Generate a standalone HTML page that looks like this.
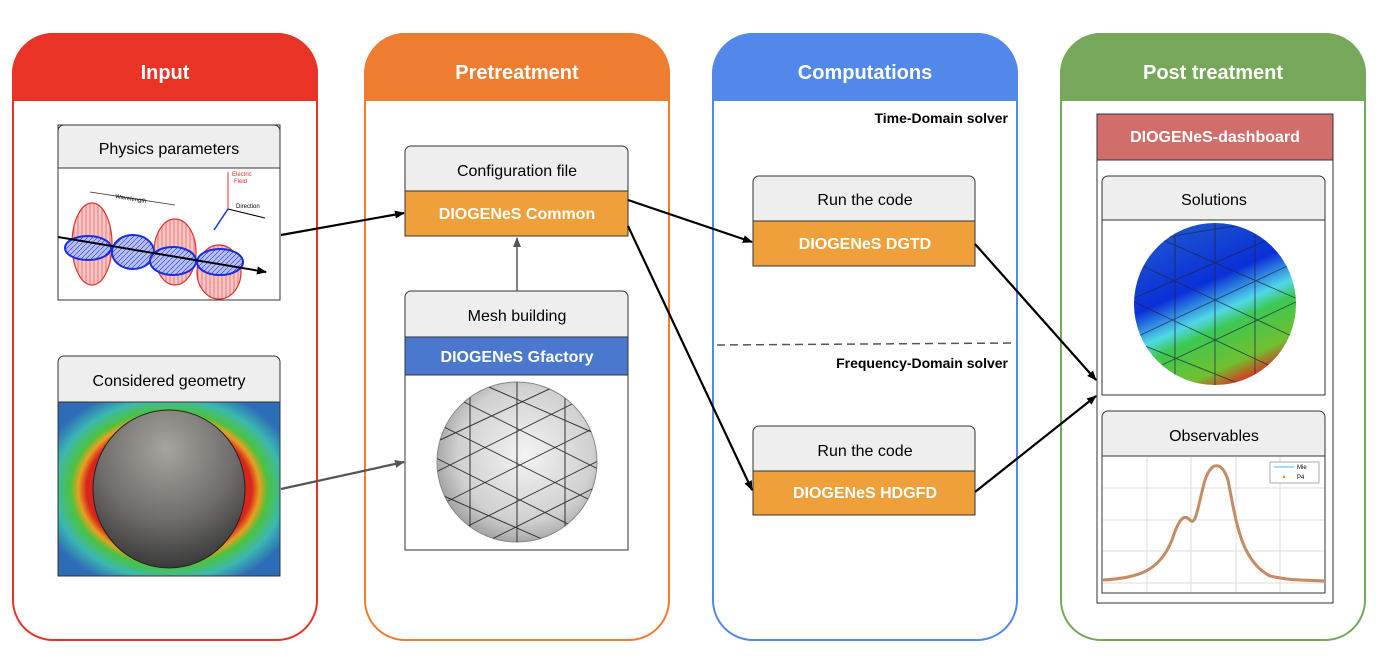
<!DOCTYPE html>
<html><head><meta charset="utf-8"><style>html,body{margin:0;padding:0;background:#fff}svg{display:block}text{font-family:"Liberation Sans",Arial,sans-serif}</style></head>
<body>
<svg width="1380" height="668" viewBox="0 0 1380 668" xmlns="http://www.w3.org/2000/svg">
<defs>
<marker id="ab" markerWidth="10" markerHeight="8" refX="9" refY="4" orient="auto" markerUnits="userSpaceOnUse"><path d="M0,0 L10,4 L0,8 Z" fill="#000"/></marker>
<marker id="ag" markerWidth="10" markerHeight="8" refX="9" refY="4" orient="auto" markerUnits="userSpaceOnUse"><path d="M0,0 L10,4 L0,8 Z" fill="#555"/></marker>
<radialGradient id="field" cx="50%" cy="50%" r="60%"><stop offset="0.62" stop-color="#d8261c"/><stop offset="0.68" stop-color="#e8a020"/><stop offset="0.74" stop-color="#4cc23e"/><stop offset="0.86" stop-color="#3bb8b0"/><stop offset="1" stop-color="#2d6db8"/></radialGradient>
<radialGradient id="grey" cx="48%" cy="25%" r="75%"><stop offset="0" stop-color="#a8a49e"/><stop offset="0.6" stop-color="#6e6d6b"/><stop offset="1" stop-color="#3a3a3a"/></radialGradient>
<radialGradient id="mesh" cx="55%" cy="45%" r="60%"><stop offset="0" stop-color="#f4f4f4"/><stop offset="0.7" stop-color="#d0d0d0"/><stop offset="1" stop-color="#9a9a9a"/></radialGradient>
<linearGradient id="sol" x1="0.2" y1="0.1" x2="0.6" y2="1"><stop offset="0" stop-color="#1a50d0"/><stop offset="0.35" stop-color="#0a2fd8"/><stop offset="0.55" stop-color="#50d8e8"/><stop offset="0.65" stop-color="#3cc850"/><stop offset="0.88" stop-color="#70c030"/><stop offset="1" stop-color="#d04020"/></linearGradient>
<pattern id="vh" width="4" height="4" patternUnits="userSpaceOnUse"><rect width="4" height="4" fill="#f6c6c6"/><line x1="2" y1="0" x2="2" y2="4" stroke="#e0302a" stroke-width="0.5"/></pattern>
<pattern id="dh" width="5" height="5" patternUnits="userSpaceOnUse"><rect width="5" height="5" fill="#b8c0f0"/><line x1="0" y1="5" x2="5" y2="0" stroke="#1a2ee0" stroke-width="0.6"/></pattern>
<clipPath id="c1"><ellipse cx="517" cy="462" rx="80" ry="80"/></clipPath>
<clipPath id="c2"><circle cx="1215" cy="304" r="81"/></clipPath>
</defs>

<g stroke-width="2">
<rect x="13" y="34" width="304" height="606" rx="40" fill="#fff" stroke="#E93326"/>
<path d="M13,100 V74 A40,40 0 0 1 53,34 H277 A40,40 0 0 1 317,74 V100 Z" fill="#E93326" stroke="#E93326"/>
<rect x="365" y="34" width="304" height="606" rx="40" fill="#fff" stroke="#EE7D31"/>
<path d="M365,100 V74 A40,40 0 0 1 405,34 H629 A40,40 0 0 1 669,74 V100 Z" fill="#EE7D31" stroke="#EE7D31"/>
<rect x="713" y="34" width="304" height="606" rx="40" fill="#fff" stroke="#5288EA"/>
<path d="M713,100 V74 A40,40 0 0 1 753,34 H977 A40,40 0 0 1 1017,74 V100 Z" fill="#5288EA" stroke="#5288EA"/>
<rect x="1061" y="34" width="304" height="606" rx="40" fill="#fff" stroke="#76A75A"/>
<path d="M1061,100 V74 A40,40 0 0 1 1101,34 H1325 A40,40 0 0 1 1365,74 V100 Z" fill="#76A75A" stroke="#76A75A"/>
</g>
<g font-size="20" font-weight="bold" fill="#fff" text-anchor="middle">
<text x="165" y="79">Input</text><text x="517" y="79">Pretreatment</text><text x="865" y="79">Computations</text><text x="1213" y="79">Post treatment</text>
</g>

<!-- Physics params -->
<rect x="58" y="125" width="222" height="175" fill="#fff" stroke="#333"/>
<g stroke-width="1.2">
<ellipse cx="92" cy="244" rx="20" ry="41" fill="url(#vh)" stroke="#e0302a"/>
<ellipse cx="175" cy="252" rx="21" ry="33" fill="url(#vh)" stroke="#e0302a"/>
<ellipse cx="219" cy="272" rx="22" ry="27" fill="url(#vh)" stroke="#e0302a"/>
<ellipse cx="88" cy="248" rx="23" ry="12" fill="url(#dh)" stroke="#1a2ee0" stroke-width="2"/>
<ellipse cx="133" cy="252" rx="21" ry="17" fill="url(#dh)" stroke="#1a2ee0" stroke-width="2"/>
<ellipse cx="173" cy="261" rx="23" ry="14" fill="url(#dh)" stroke="#1a2ee0" stroke-width="2"/>
<ellipse cx="220" cy="262" rx="23" ry="13" fill="url(#dh)" stroke="#1a2ee0" stroke-width="2"/>
</g>
<line x1="58" y1="237" x2="266" y2="272" stroke="#000" stroke-width="2" marker-end="url(#ab)"/>
<path d="M58,168 V131 A6,6 0 0 1 64,125 H274 A6,6 0 0 1 280,131 V168 Z" fill="#eee" stroke="#333"/>
<text x="169" y="154" font-size="16" text-anchor="middle">Physics parameters</text>
<line x1="90" y1="192" x2="175" y2="205" stroke="#333" stroke-width="0.8"/>
<text x="115" y="198" font-size="6" transform="rotate(9 115 198)">Wavelength</text>
<line x1="228" y1="209" x2="228" y2="172" stroke="#e0302a"/>
<text x="232" y="176" font-size="6" fill="#e0302a">Electric</text><text x="234" y="183" font-size="6" fill="#e0302a">Field</text>
<line x1="228" y1="209" x2="265" y2="218" stroke="#000"/>
<text x="236" y="208" font-size="6">Direction</text>
<line x1="228" y1="209" x2="214" y2="230" stroke="#1a2ee0" stroke-width="1.5"/>

<!-- Considered geometry -->
<rect x="58" y="402" width="222" height="174" fill="url(#field)" stroke="#333"/>
<path d="M58,402 V362 A6,6 0 0 1 64,356 H274 A6,6 0 0 1 280,362 V402 Z" fill="#eee" stroke="#333"/>
<text x="169" y="386" font-size="16" text-anchor="middle">Considered geometry</text>
<ellipse cx="169" cy="489" rx="76" ry="79" fill="url(#grey)" stroke="#222"/>

<!-- Config file -->
<rect x="405" y="191" width="223" height="45" fill="#F0A03A" stroke="#333"/>
<path d="M405,191 V152 A6,6 0 0 1 411,146 H622 A6,6 0 0 1 628,152 V191 Z" fill="#eee" stroke="#333"/>
<text x="517" y="176" font-size="16" text-anchor="middle">Configuration file</text>
<text x="517" y="219" font-size="16" font-weight="bold" fill="#fff" text-anchor="middle">DIOGENeS  Common</text>

<!-- Mesh building -->
<rect x="405" y="375" width="223" height="175" fill="#fff" stroke="#333"/>
<rect x="405" y="337" width="223" height="38" fill="#4A78CF" stroke="#333"/>
<path d="M405,337 V297 A6,6 0 0 1 411,291 H622 A6,6 0 0 1 628,297 V337 Z" fill="#eee" stroke="#333"/>
<text x="517" y="321" font-size="16" text-anchor="middle">Mesh building</text>
<text x="517" y="362" font-size="16" font-weight="bold" fill="#fff" text-anchor="middle">DIOGENeS Gfactory</text>
<ellipse cx="517" cy="462" rx="80" ry="80" fill="url(#mesh)" stroke="#888"/>
<g clip-path="url(#c1)" stroke="#333" stroke-width="1" fill="none">
<path d="M430,420 L610,510 M430,455 L610,545 M430,385 L610,475 M450,370 L610,440 M430,490 L590,560"/>
<path d="M430,510 L610,420 M430,475 L610,385 M430,545 L610,455 M450,560 L610,480 M440,440 L590,370"/>
<path d="M470,380 V550 M517,380 V550 M565,380 V550"/>
</g>

<!-- Computations -->
<text x="1008" y="123" font-size="14" font-weight="bold" text-anchor="end">Time-Domain solver</text>
<line x1="717" y1="345" x2="1013" y2="343" stroke="#555" stroke-width="1.5" stroke-dasharray="8,5"/>
<text x="1008" y="368" font-size="14" font-weight="bold" text-anchor="end">Frequency-Domain solver</text>
<rect x="753" y="221" width="222" height="45" fill="#F0A03A" stroke="#333"/>
<path d="M753,221 V182 A6,6 0 0 1 759,176 H969 A6,6 0 0 1 975,182 V221 Z" fill="#eee" stroke="#333"/>
<text x="865" y="205" font-size="16" text-anchor="middle">Run the code</text>
<text x="865" y="249" font-size="16" font-weight="bold" fill="#fff" text-anchor="middle">DIOGENeS  DGTD</text>
<rect x="753" y="471" width="222" height="44" fill="#F0A03A" stroke="#333"/>
<path d="M753,471 V432 A6,6 0 0 1 759,426 H969 A6,6 0 0 1 975,432 V471 Z" fill="#eee" stroke="#333"/>
<text x="865" y="456" font-size="16" text-anchor="middle">Run the code</text>
<text x="865" y="498" font-size="16" font-weight="bold" fill="#fff" text-anchor="middle">DIOGENeS  HDGFD</text>

<!-- Post treatment -->
<rect x="1097" y="114" width="236" height="489" fill="#fff" stroke="#333"/>
<rect x="1097" y="114" width="236" height="46" fill="#D16D6A" stroke="#333"/>
<text x="1215" y="142" font-size="16" font-weight="bold" fill="#fff" text-anchor="middle">DIOGENeS-dashboard</text>
<rect x="1102" y="220" width="223" height="175" fill="#fff" stroke="#333"/>
<path d="M1102,220 V182 A6,6 0 0 1 1108,176 H1319 A6,6 0 0 1 1325,182 V220 Z" fill="#eee" stroke="#333"/>
<text x="1214" y="205" font-size="16" text-anchor="middle">Solutions</text>
<circle cx="1215" cy="304" r="81" fill="url(#sol)"/>
<g clip-path="url(#c2)" stroke="#224" stroke-width="1" fill="none" opacity="0.7">
<path d="M1130,260 L1300,340 M1130,300 L1300,380 M1140,230 L1300,300 M1130,340 L1280,400"/>
<path d="M1130,340 L1300,260 M1130,380 L1300,300 M1150,240 L1270,220 M1130,300 L1290,230"/>
<path d="M1175,225 V390 M1215,222 V390 M1255,225 V390"/>
</g>
<rect x="1102" y="456" width="223" height="137" fill="#fff" stroke="#333"/>
<path d="M1102,456 V417 A6,6 0 0 1 1108,411 H1319 A6,6 0 0 1 1325,417 V456 Z" fill="#eee" stroke="#333"/>
<text x="1214" y="441" font-size="16" text-anchor="middle">Observables</text>
<g stroke="#ddd" stroke-width="1">
<path d="M1147,457 V592 M1191,457 V592 M1236,457 V592 M1280,457 V592 M1103,488 H1324 M1103,520 H1324 M1103,551 H1324 M1103,583 H1324"/>
</g>
<path d="M1103,580 C1140,578 1160,570 1172,540 C1180,515 1185,515 1190,520 C1196,527 1198,505 1205,480 C1212,460 1222,462 1228,480 C1236,520 1240,560 1270,576 C1290,581 1310,580 1324,581" fill="none" stroke="#f07a35" stroke-width="3"/>
<path d="M1103,580 C1140,578 1160,570 1172,540 C1180,515 1185,515 1190,520 C1196,527 1198,505 1205,480 C1212,460 1222,462 1228,480 C1236,520 1240,560 1270,576 C1290,581 1310,580 1324,581" fill="none" stroke="#4ab8e8" stroke-width="0.8"/>
<rect x="1270" y="462" width="49" height="21" fill="#fff" stroke="#888" stroke-width="0.7"/>
<line x1="1274" y1="467" x2="1294" y2="467" stroke="#4ab8e8"/>
<text x="1297" y="469" font-size="6" font-family="Liberation Serif">Mie</text>
<circle cx="1284" cy="477" r="1.2" fill="#f07a35"/>
<text x="1297" y="479" font-size="6" font-family="Liberation Serif">P4</text>

<!-- arrows -->
<g stroke-width="2.2" fill="none">
<line x1="281" y1="235" x2="404" y2="213" stroke="#000" marker-end="url(#ab)"/>
<line x1="628" y1="200" x2="752" y2="242" stroke="#000" marker-end="url(#ab)"/>
<line x1="628" y1="226" x2="752" y2="490" stroke="#000" marker-end="url(#ab)"/>
<line x1="975" y1="244" x2="1096" y2="380" stroke="#000" marker-end="url(#ab)"/>
<line x1="975" y1="492" x2="1096" y2="396" stroke="#000" marker-end="url(#ab)"/>
<line x1="281" y1="489" x2="404" y2="462" stroke="#555" marker-end="url(#ag)"/>
<line x1="517" y1="291" x2="517" y2="238" stroke="#555" stroke-width="1.5" marker-end="url(#ag)"/>
</g>
</svg>
</body></html>
